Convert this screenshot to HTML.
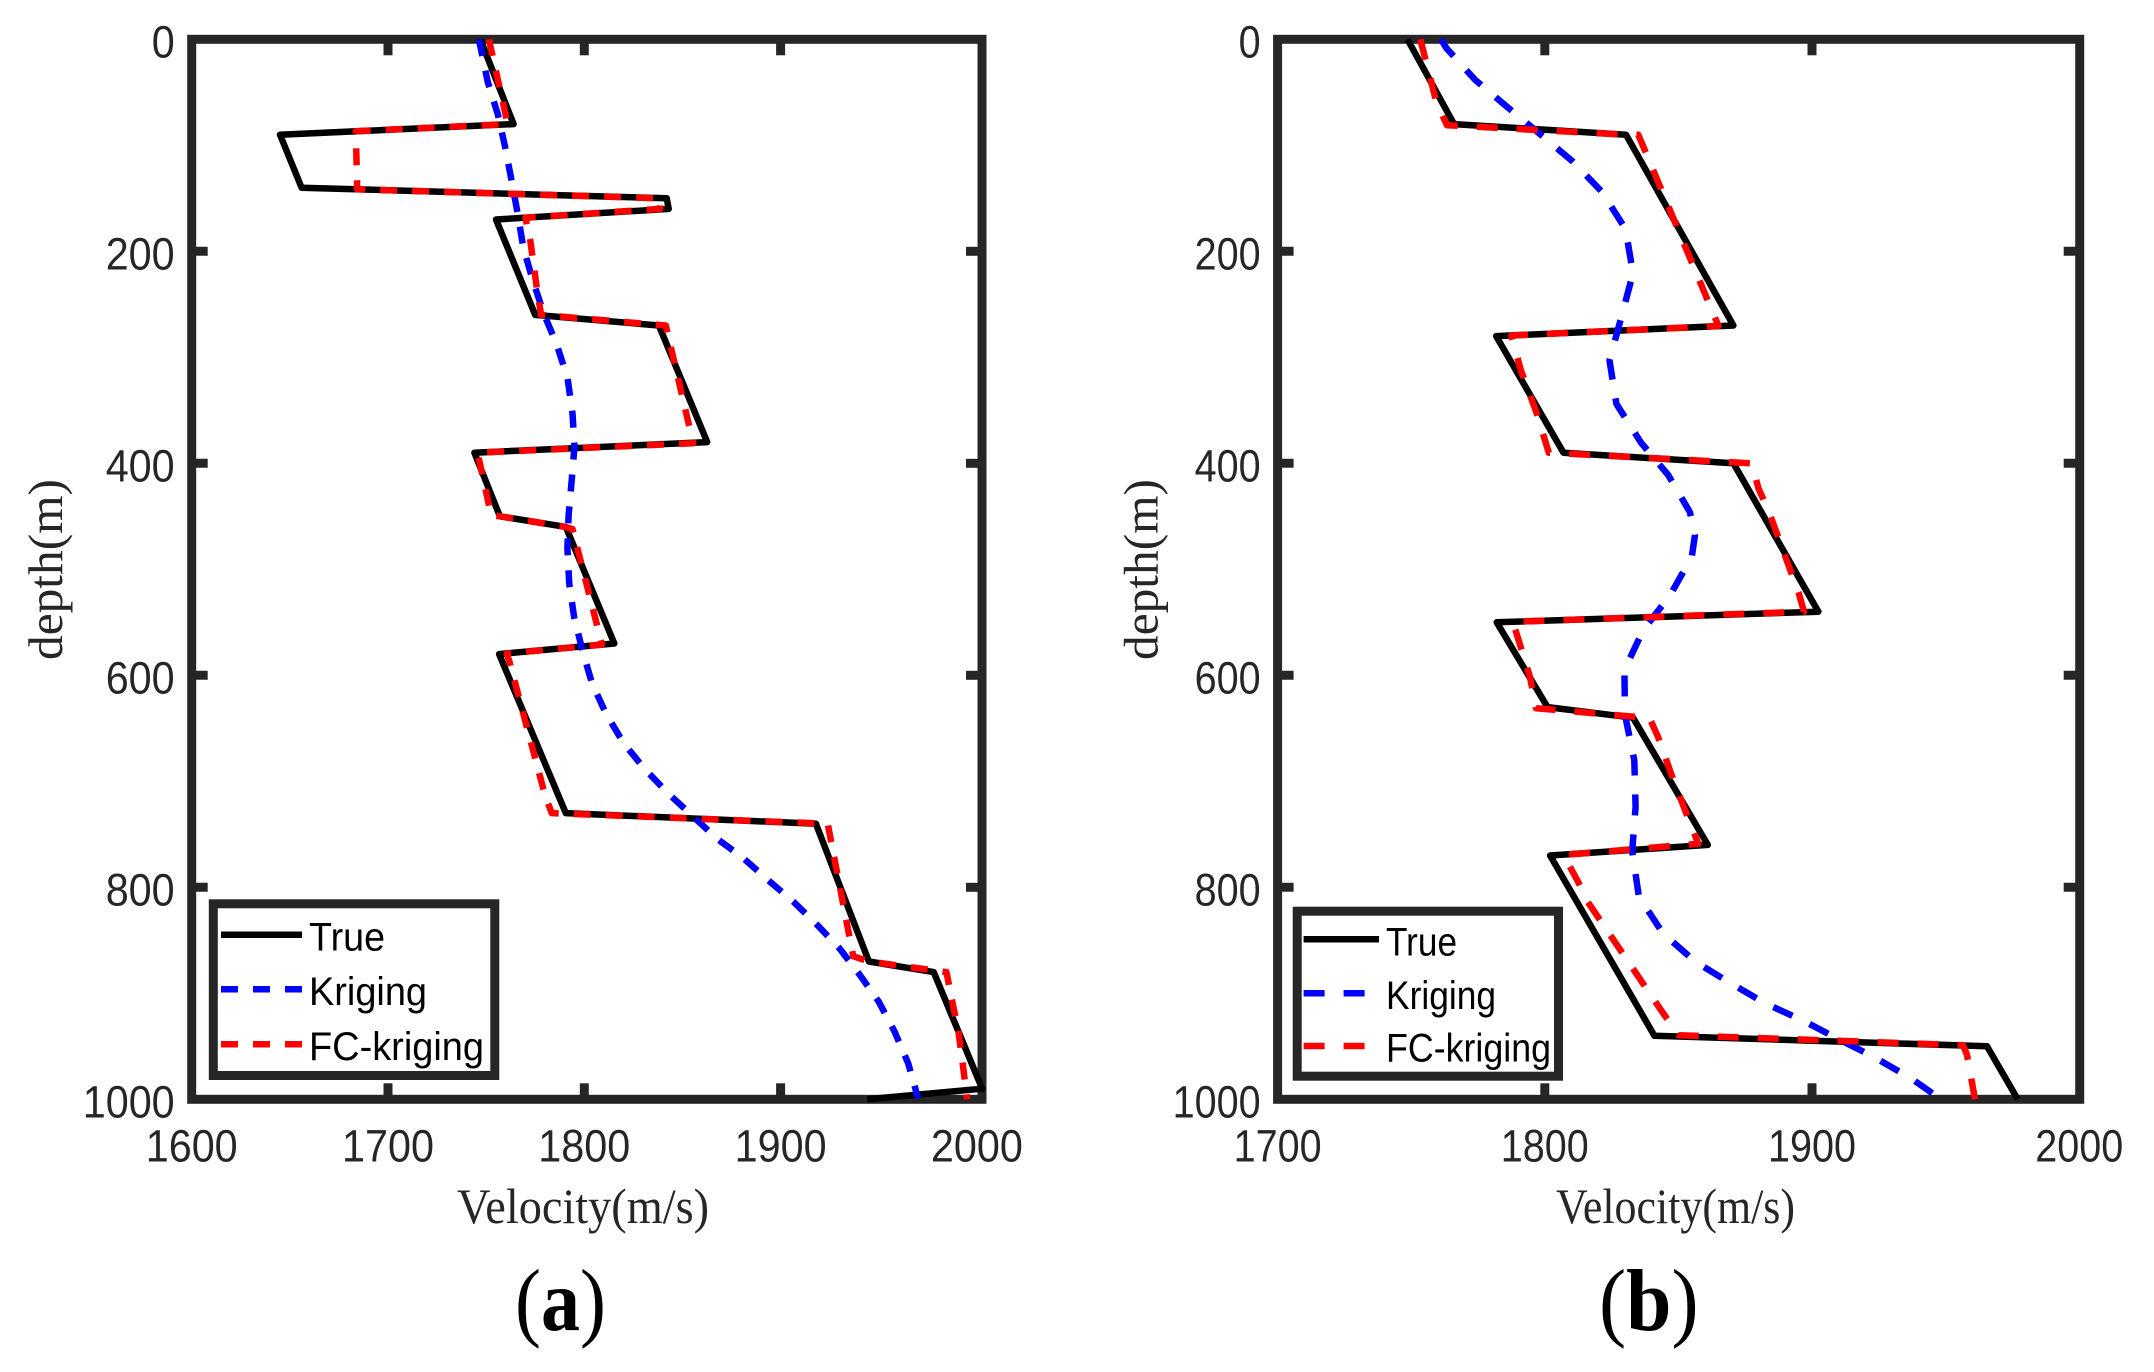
<!DOCTYPE html>
<html lang="en">
<head>
<meta charset="utf-8">
<title>Velocity vs depth: True, Kriging, FC-kriging</title>
<style>
html,body{margin:0;padding:0;background:#fff;}
svg{display:block;}
</style>
</head>
<body>
<svg id="figure" xmlns="http://www.w3.org/2000/svg" width="2154" height="1372" viewBox="0 0 2154 1372"></svg>
<script>
const depthTicks = [0, 200, 400, 600, 800, 1000];
const velocityTicksA = [1600, 1700, 1800, 1900, 2000];
const velocityTicksB = [1700, 1800, 1900, 2000];
const legendLabels = ['True', 'Kriging', 'FC-kriging'];

const trueVelocityA = [1747, 1764, 1645, 1656, 1842, 1843, 1755, 1775, 1838, 1862.6, 1744, 1757, 1790.6, 1815.3, 1756.6, 1790.6, 1918, 1945, 1978, 2002.7, 1944];
const trueDepthA = [0, 80, 90, 140, 150, 160, 170, 260, 270, 380, 390, 450, 460, 570, 580, 730, 740, 870, 880, 990, 1000];

const fcVelocityA = [1751.4, 1761, 1683.6, 1684.3, 1839, 1838.5, 1770, 1772.5, 1776, 1778, 1841.5, 1855.5, 1745.6, 1751.5, 1752.5, 1757, 1790, 1794, 1809, 1760.5, 1762, 1780, 1783.4, 1924, 1937, 1945, 1984.5, 1987, 1990.5, 1993, 1995];
const fcDepthA = [0, 80, 86.7, 141.5, 150, 160, 168.3, 190, 237, 260, 270, 381, 390, 440, 449, 450, 460, 462, 571, 579.5, 588, 713, 730, 740, 865, 870, 880, 904, 935, 970, 1000];

const krigingVelocityA = [1746.3, 1750.8, 1756, 1759.6, 1763, 1766, 1769, 1774, 1779.6, 1786, 1791.5, 1794, 1795, 1793.6, 1792, 1791.4, 1792.3, 1794.8, 1799, 1803.8, 1811, 1820, 1830.6, 1842.5, 1854.7, 1867.5, 1880.7, 1893.5, 1906.5, 1918.7, 1930, 1940.4, 1950, 1958, 1965, 1970];
const krigingDepthA = [0, 40, 71, 101, 134, 164, 197, 229, 260, 288, 320, 353, 384, 416, 449, 480, 513, 545, 576, 607, 636, 664, 688, 711, 732, 754, 772, 793, 813.6, 835.6, 857.6, 882.7, 908, 936, 966, 999];

const trueVelocityB = [1748.6, 1766, 1830.4, 1870.6, 1781.8, 1807, 1870.6, 1902.4, 1782, 1801, 1833, 1861, 1802, 1841, 1965.5, 1977];
const trueDepthB = [0, 80, 90, 270, 280, 390, 400, 540, 550, 630, 640, 760, 770, 940, 950, 1000];

const fcVelocityB = [1753.4, 1759.5, 1763.4, 1830, 1835, 1865, 1787.5, 1791, 1797, 1801.5, 1877.4, 1880, 1883.6, 1895, 1897, 1788, 1789.5, 1794.5, 1796.7, 1833, 1839, 1842.5, 1848, 1854.3, 1857.5, 1807, 1812.5, 1816, 1843.4, 1850, 1956.5, 1958, 1961];
const fcDepthB = [0, 60, 81, 90, 90, 270.5, 279.4, 312, 353, 390, 400, 424, 444, 522, 540, 549.5, 561, 602, 631, 639, 639, 659, 698, 739, 759, 769.5, 795, 813.6, 915.6, 939.5, 949, 958, 1000];

const krigingVelocityB = [1761.2, 1763.2, 1774, 1786, 1798.5, 1810.5, 1821.3, 1830.2, 1833, 1828.7, 1824.2, 1826.8, 1836, 1846.2, 1854.3, 1856.2, 1855, 1846.8, 1836.9, 1829.8, 1830, 1833.5, 1834, 1832.7, 1835.2, 1844.2, 1856.3, 1869.4, 1882.5, 1896.6, 1910.3, 1923.6, 1937.2, 1948.3];
const krigingDepthB = [0, 8.5, 38.4, 64, 90, 115.4, 143.7, 179, 220.8, 261.6, 303, 344, 380.5, 411, 446, 467.6, 488, 525, 557, 594.9, 637.4, 680, 724, 766, 808.8, 843.4, 870.1, 890.3, 909.4, 925.8, 943.7, 960.7, 980.5, 1000];

const SVG_NS = 'http://www.w3.org/2000/svg';
const INK = '#262626';
const figure = document.getElementById('figure');

function make(tag, parent, attrs) {
  const el = document.createElementNS(SVG_NS, tag);
  for (const k in attrs) el.setAttribute(k, attrs[k]);
  parent.appendChild(el);
  return el;
}

function drawPanel(cfg) {
  const x = v => cfg.left + (v - cfg.xMin) * cfg.xScale;
  const y = d => cfg.top + d * cfg.yScale;
  const bottom = y(1000);

  const panel = make('g', figure, {});
  
  

  const frame = make('rect', panel, { x: cfg.left, y: cfg.top, width: cfg.right - cfg.left, height: bottom - cfg.top, fill: 'none', stroke: INK, 'stroke-width': 9 });
  
  

  cfg.xTicks.forEach(function (v) {
    const px = x(v);
    if (v < 2000 && v > cfg.xMin) {
      const t1 = make('line', panel, { x1: px, x2: px, y1: cfg.top, y2: cfg.top + 16, stroke: INK, 'stroke-width': 9 });
      
      
      const t2 = make('line', panel, { x1: px, x2: px, y1: bottom, y2: bottom - 16, stroke: INK, 'stroke-width': 9 });
      
      
    }
    const label = make('text', panel, { x: px, y: 1161.5, 'text-anchor': 'middle', 'font-family': '"Liberation Sans", sans-serif', 'font-size': 45, fill: INK, textLength: cfg.digit * 4, lengthAdjust: 'spacingAndGlyphs' });
    label.textContent = String(v);
    
    
  });

  depthTicks.forEach(function (d) {
    const py = y(d);
    if (d > 0 && d < 1000) {
      const t1 = make('line', panel, { x1: cfg.left, x2: cfg.left + 16, y1: py, y2: py, stroke: INK, 'stroke-width': 9 });
      
      
      const t2 = make('line', panel, { x1: cfg.right, x2: cfg.right - 16, y1: py, y2: py, stroke: INK, 'stroke-width': 9 });
      
      
    }
    const s = String(d);
    const label = make('text', panel, { x: cfg.left - 17, y: py + 18, 'text-anchor': 'end', 'font-family': '"Liberation Sans", sans-serif', 'font-size': 45, fill: INK, textLength: cfg.digit * s.length, lengthAdjust: 'spacingAndGlyphs' });
    label.textContent = s;
    
    
  });

  function series(name, vs, ds, color, dash) {
    const pts = vs.map(function (v, i) { return x(v).toFixed(1) + ',' + y(ds[i]).toFixed(1); }).join(' ');
    const line = make('polyline', panel, { points: pts, fill: 'none', stroke: color, 'stroke-width': 6.5, 'stroke-linejoin': 'round' });
    if (dash) line.setAttribute('stroke-dasharray', dash);
    
    
  }
  series('true', cfg.trueV, cfg.trueD, '#000', null);
  series('kriging', cfg.krigV, cfg.krigD, '#00f', cfg.dash);
  series('fc-kriging', cfg.fcV, cfg.fcD, '#f00', cfg.dash);

  const xTitle = make('text', panel, { x: cfg.xTitleX, y: 1223, 'font-family': '"Liberation Serif", serif', 'font-size': 50, fill: INK, textLength: cfg.xTitleW, lengthAdjust: 'spacingAndGlyphs' });
  xTitle.textContent = 'Velocity(m/s)';
  
  

  const yTitle = make('text', panel, { transform: 'translate(' + cfg.yTitleX + ',660) rotate(-90)', x: 0, y: 0, 'font-family': '"Liberation Serif", serif', 'font-size': 49, fill: INK, textLength: 181, lengthAdjust: 'spacingAndGlyphs' });
  yTitle.textContent = 'depth(m)';
  
  

  const legend = make('g', panel, {});
  
  
  const lb = cfg.legend;
  const box = make('rect', legend, { x: lb.x, y: lb.y, width: lb.w, height: lb.h, fill: '#fff', stroke: INK, 'stroke-width': 9 });
  
  
  const colors = ['#000', '#00f', '#f00'];
  const dashes = [null, lb.dash, lb.dash];
  legendLabels.forEach(function (name, i) {
    const sw = make('line', legend, { x1: lb.lineX1, x2: lb.lineX2, y1: lb.lineY[i], y2: lb.lineY[i], stroke: colors[i], 'stroke-width': 6.5 });
    if (dashes[i]) sw.setAttribute('stroke-dasharray', dashes[i]);
    
    
    const tx = make('text', legend, { x: lb.textX, y: lb.textY[i], 'font-family': '"Liberation Sans", sans-serif', 'font-size': 40, fill: '#000', textLength: lb.textW[i], lengthAdjust: 'spacingAndGlyphs' });
    tx.textContent = name;
    
    
  });

  const cap = make('text', panel, { x: cfg.capX, y: 1330, 'font-family': '"Liberation Serif", serif', 'font-size': 88, fill: '#000', textLength: cfg.capW, lengthAdjust: 'spacingAndGlyphs' });
  const open = make('tspan', cap, {});
  open.textContent = '(';
  const letter = make('tspan', cap, { 'font-weight': 'bold' });
  letter.textContent = cfg.capLetter;
  const close = make('tspan', cap, {});
  close.textContent = ')';
  
  
}

drawPanel({
  id: 'panel-a', left: 191.7, right: 982, top: 39.3, yScale: 1.06, xMin: 1600, xScale: 1.963,
  xTicks: velocityTicksA, digit: 23, dash: '17 15',
  trueV: trueVelocityA, trueD: trueDepthA, krigV: krigingVelocityA, krigD: krigingDepthA, fcV: fcVelocityA, fcD: fcDepthA,
  xTitleX: 457, xTitleW: 252, yTitleX: 62, capX: 515, capW: 91, capLetter: 'a',
  legend: { x: 213.3, y: 903.8, w: 281.5, h: 171.7, lineX1: 221, lineX2: 302, lineY: [934.7, 989.3, 1044.3], textX: 309, textY: [950.7, 1005, 1060], textW: [76, 118, 175], dash: '17 15' }
});
drawPanel({
  id: 'panel-b', left: 1277.6, right: 2079.7, top: 39.3, yScale: 1.06, xMin: 1700, xScale: 2.672,
  xTicks: velocityTicksB, digit: 22, dash: '21 19',
  trueV: trueVelocityB, trueD: trueDepthB, krigV: krigingVelocityB, krigD: krigingDepthB, fcV: fcVelocityB, fcD: fcDepthB,
  xTitleX: 1556, xTitleW: 239, yTitleX: 1157.3, capX: 1599, capW: 99.6, capLetter: 'b',
  legend: { x: 1297.2, y: 911.2, w: 261.3, h: 165, lineX1: 1303.6, lineX2: 1379, lineY: [939.3, 993.3, 1046], textX: 1386, textY: [955.7, 1009, 1061.7], textW: [71, 110, 165], dash: '21 19' }
});
</script>
</body>
</html>
